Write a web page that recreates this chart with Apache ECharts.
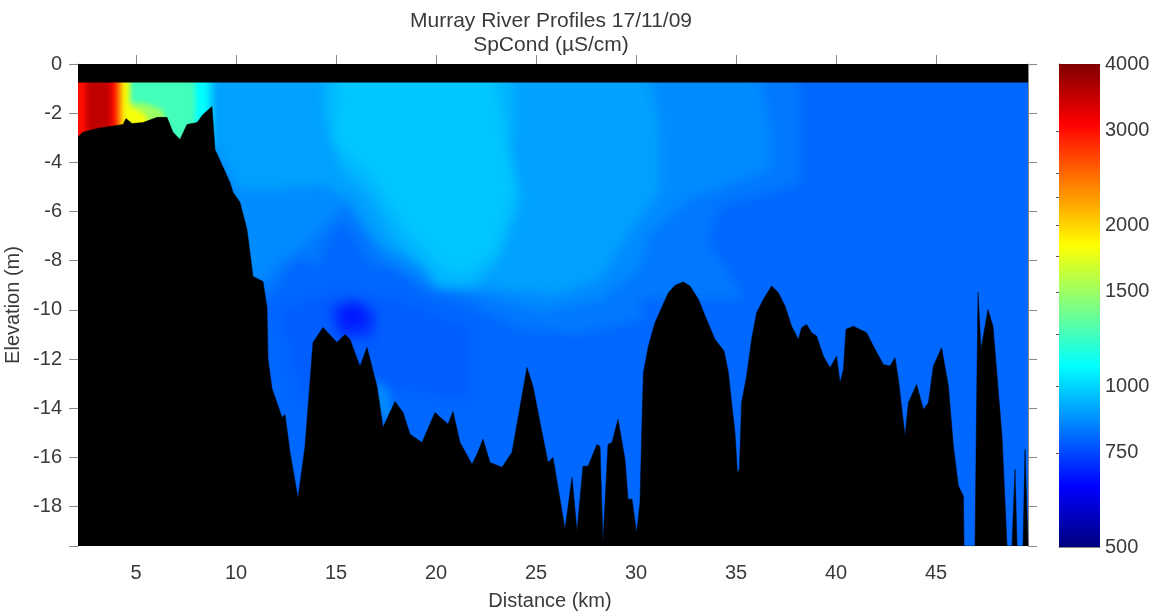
<!DOCTYPE html>
<html>
<head>
<meta charset="utf-8">
<style>html,body{margin:0;padding:0;background:#fff}#c{width:1152px;height:613px}</style>
<script src="https://cdn.jsdelivr.net/npm/echarts@6/dist/echarts.min.js"></script>
</head>
<body>
<div id="c"></div>
<script>
const titleLines = ['Murray River Profiles 17/11/09', 'SpCond (µS/cm)'];
const distanceTicks = [5, 10, 15, 20, 25, 30, 35, 40, 45];
const elevationTicks = [0, -2, -4, -6, -8, -10, -12, -14, -16, -18];
const elevationTickMarks = [0, -2, -4, -6, -8, -10, -12, -14, -16, -18, -19.6];
const colorbarLabels = [500, 750, 1000, 1500, 2000, 3000, 4000];
const colorbarMinorTicks = [750, 1000, 1250, 1500, 1750, 2000, 2250, 2500, 3000];
const distanceRange = [2.1, 49.6];
const elevationRange = [-19.6, 0];
const colorRange = [500, 4000];
const surfaceMask = [[2.1, -0.74], [49.6, -0.74]];

// Riverbed profile: [distance km, elevation m]
const riverbed = [
[2.1,-2.95],[2.35,-2.78],[3.05,-2.62],[4.35,-2.46],[4.5,-2.22],[4.8,-2.42],[5.35,-2.38],[6.05,-2.17],[6.55,-2.17],[6.85,-2.78],
[7.2,-3.07],[7.55,-2.46],[8.05,-2.38],[8.35,-2.05],[8.8,-1.73],[8.95,-3.48],[9.7,-4.82],[9.85,-5.22],[10.2,-5.63],[10.55,-6.73],
[10.85,-8.64],[11.35,-8.84],[11.55,-9.9],[11.6,-12],[11.8,-13.2],[12.3,-14.37],[12.45,-14.25],[12.7,-15.79],[13.1,-17.66],[13.45,-15.55],
[13.85,-11.32],[14.35,-10.71],[15.05,-11.32],[15.45,-11],[15.7,-11.2],[16.2,-12.3],[16.55,-11.52],[17.05,-13.11],[17.35,-14.78],[17.95,-13.72],
[18.35,-14.17],[18.7,-15.06],[19.3,-15.39],[19.95,-14.17],[20.6,-14.65],[20.85,-14.13],[21.2,-15.39],[21.8,-16.28],[22.05,-15.87],[22.35,-15.26],
[22.7,-16.2],[23.3,-16.4],[23.8,-15.79],[24.55,-12.34],[24.85,-13.11],[25.3,-14.98],[25.6,-16.2],[25.85,-16],[26.45,-18.92],[26.8,-16.8],
[27.05,-19],[27.35,-16.36],[27.6,-16.36],[28.05,-15.47],[28.2,-15.55],[28.35,-19.45],[28.6,-15.47],[28.8,-15.39],[29.1,-14.45],[29.45,-16.08],
[29.6,-17.7],[29.8,-17.7],[30.03,-19.06],[30.2,-17.84],[30.28,-15.13],[30.37,-12.55],[30.62,-11.47],[30.95,-10.52],[31.28,-9.91],[31.62,-9.3],
[31.95,-9],[32.37,-8.86],[32.7,-9.03],[33.12,-9.57],[33.53,-10.39],[33.95,-11.2],[34.4,-11.67],[34.62,-12.55],[34.78,-13.77],[34.95,-14.99],
[35.07,-16.62],[35.17,-16.48],[35.28,-13.77],[35.53,-12.69],[35.78,-11.2],[36.03,-10.12],[36.37,-9.57],[36.78,-9.03],[37.12,-9.3],[37.45,-9.84],
[37.78,-10.66],[38.12,-11.2],[38.28,-10.73],[38.53,-10.59],[38.78,-10.93],[39.03,-11.06],[39.37,-11.88],[39.7,-12.35],[40.03,-11.88],[40.2,-12.96],
[40.37,-12.42],[40.5,-10.79],[40.87,-10.66],[41.53,-10.93],[41.95,-11.6],[42.37,-12.22],[42.7,-12.28],[42.95,-11.95],[43.12,-12.83],[43.45,-15.13],
[43.62,-13.77],[44.03,-13.03],[44.37,-14.05],[44.62,-13.77],[44.87,-12.28],[45.28,-11.54],[45.62,-13.1],[45.87,-15.54],[46.12,-17.16],[46.37,-17.57],
[46.4,-19.6],[46.95,-19.6],[47.05,-12.42],[47.1,-9.29],[47.25,-11.6],[47.6,-9.98],[47.85,-10.67],[48.3,-15.14],[48.55,-19.6],[48.8,-19.6],
[48.95,-16.48],[49.05,-19.6],[49.35,-19.6],[49.45,-15.67],[49.6,-19.6]
];

// Filled-contour bands: [µS/cm level, outline in [km, m]]
const contour800 = [[-10,5],[60,5],[60,-30],[-10,-30]];
const contour785 = [[12.2,-10],[15.2,-9.2],[18.2,-9.6],[21.7,-10.8],[21.7,-13.6],[17.2,-13.2],[13.2,-13.6]];
const contour830 = [[8.45,2],[38.2,2],[38.2,-4.9],[34.2,-5.8],[33.6,-7.1],[35.45,-9.6],[30.2,-9.6],[30.45,-10.4],[27.2,-11],[24.2,-10.8],[21.7,-9.8],[19.2,-9.2],[18.2,-8.4],[16.7,-8.15],[15.95,-7.1],[15.35,-6.4],[14.7,-7.1],[14.2,-8.15],[12.95,-7.95],[11.95,-9.2],[11.3,-9.6],[8.2,-9.6]];
const contour860 = [[8.45,2],[35.7,2],[36.7,-2.65],[36.7,-4.3],[32.7,-5.5],[30.7,-6.9],[30.2,-8.35],[28.2,-9.6],[25.2,-10.05],[21.7,-9.3],[19.2,-8.75],[17.45,-7.85],[16.2,-6.5],[15.45,-5.7],[14.45,-6.5],[13.45,-7.35],[12.2,-8.05],[11.3,-8.95],[10.2,-8.75],[8.2,-5.5]];
const contour900 = [[8.95,2],[30.2,2],[31.2,-2.65],[31.2,-5.1],[29.45,-7.15],[28.2,-8.75],[26.2,-9.35],[23.2,-9.15],[20.2,-8.9],[19.2,-8.15],[17.2,-7.35],[15.7,-5.5],[14.2,-4.9],[12.2,-5.1],[10.2,-5.1],[8.2,-2.25]];
const contour940 = [[14.2,2],[23.9,2],[23.9,-2.65],[23.65,-3.5],[24.3,-5.5],[23.9,-6.5],[23.15,-7.95],[21.9,-9.05],[20.0,-9.05],[19.5,-8.25],[18,-7.25],[16.75,-5.4],[15.25,-4.3],[14.4,-2.25]];
const contour970 = [[15.1,2],[22.4,2],[23.4,-2.65],[23.9,-5.1],[22.9,-7.75],[21.3,-8.6],[20.1,-8.15],[18.5,-6.7],[16.75,-4.5],[14.95,-3.2]];
const contour720 = [[14.7,-9.9],[15.95,-9.6],[16.95,-10.1],[16.8,-11.1],[15.2,-11.1]];
const contour680 = [[15.2,-10],[16.2,-9.85],[16.55,-10.45],[15.4,-10.8]];
const contour870 = [[16.85,-12.8],[17.55,-13.2],[17.9,-14.6],[17,-14.2]];
const contour1000 = [[0,2],[8.9,2],[8.9,-3.6],[0,-3.6]];
const contour1090 = [[0,2],[8.5,2],[8.6,-3.6],[0,-3.6]];
const contour1250 = [[0,2],[7.9,2],[8.0,-3.6],[0,-3.6]];
const contour1500 = [[4.5,-1.55],[5.5,-1.6],[6.3,-1.85],[6.6,-2.6],[4.5,-2.7]];
const contour1800 = [[0,2],[4.72,2],[4.7,-1.7],[5.0,-1.85],[5.4,-2.0],[5.8,-2.6],[0,-2.7]];
const contour2300 = [[0,2],[4.3,2],[4.3,-3.2],[0,-3.2]];
const contour3000 = [[0,2],[4.05,2],[4.05,-3.2],[0,-3.2]];
const contour3500 = [[2.5,2],[3.75,2],[3.75,-3.2],[2.5,-3.2]];
const contourLevels = [800, 785, 830, 860, 870, 900, 940, 970, 720, 680, 1000, 1090, 1250, 1500, 1800, 2300, 3000, 3500];
const contourOutlines = [contour800, contour785, contour830, contour860, contour870, contour900, contour940, contour970, contour720, contour680, contour1000, contour1090, contour1250, contour1500, contour1800, contour2300, contour3000, contour3500];

function jet(t) {
  const ramp = o => Math.round(255 * Math.max(0, Math.min(1, 1.5 - Math.abs(4 * t - o))));
  return `rgb(${ramp(3)},${ramp(2)},${ramp(1)})`;
}
const levelT = v => Math.log(v / colorRange[0]) / Math.log(colorRange[1] / colorRange[0]);

const chart = echarts.init(document.getElementById('c'), null, { renderer: 'canvas' });
const textColor = '#3a3a3a';
const axisLine = { show: true, lineStyle: { color: '#8a8a8a', width: 1 } };
const font = 'Liberation Sans';
const xTick = { show: true, length: 9, customValues: distanceTicks, lineStyle: { color: '#888' } };
const yTick = { show: true, length: 9, customValues: elevationTickMarks, lineStyle: { color: '#888' } };
const cbTicks = colorbarMinorTicks.map(v => Math.log10(v));
const cbMin = Math.log10(colorRange[0]), cbMax = Math.log10(colorRange[1]);
const gradient = [];
for (let i = 0; i <= 32; i++) gradient.push({ offset: i / 32, color: jet(1 - i / 32) });
const OFFSCREEN = 3000;

chart.setOption({
  animation: false,
  backgroundColor: '#fff',
  title: {
    text: titleLines.join('\n'), left: 546, top: 4, textAlign: 'center',
    textStyle: { fontFamily: font, fontWeight: 'normal', fontSize: 21, lineHeight: 24, color: textColor }
  },
  grid: [
    { left: 78, top: 64, width: 950, height: 482, outerBoundsMode: 'none' },
    { left: 1059, top: 64, width: 41, height: 483, outerBoundsMode: 'none' }
  ],
  xAxis: [
    { type: 'value', gridIndex: 0, min: distanceRange[0], max: distanceRange[1], position: 'bottom',
      name: 'Distance (km)', nameLocation: 'middle', nameGap: 45, nameMoveOverlap: false,
      nameTextStyle: { fontFamily: font, fontSize: 20, color: textColor, padding: [0, 6, 0, 0] },
      axisLine, axisTick: xTick, splitLine: { show: false },
      axisLabel: { customValues: distanceTicks, fontFamily: font, fontSize: 20, color: textColor, margin: 17 } },
    { type: 'value', gridIndex: 0, min: distanceRange[0], max: distanceRange[1], position: 'top',
      axisLine, axisTick: xTick, splitLine: { show: false }, axisLabel: { show: false } },
    { type: 'value', gridIndex: 1, min: 0, max: 1, position: 'bottom',
      axisLine, axisTick: { show: false }, splitLine: { show: false }, axisLabel: { show: false } },
    { type: 'value', gridIndex: 1, min: 0, max: 1, position: 'top',
      axisLine, axisTick: { show: false }, splitLine: { show: false }, axisLabel: { show: false } }
  ],
  yAxis: [
    { type: 'value', gridIndex: 0, min: elevationRange[0], max: elevationRange[1], position: 'left',
      name: 'Elevation (m)', nameLocation: 'middle', nameGap: 55, nameMoveOverlap: false,
      nameTextStyle: { fontFamily: font, fontSize: 20, color: textColor },
      axisLine, axisTick: yTick, splitLine: { show: false },
      axisLabel: { customValues: elevationTicks, fontFamily: font, fontSize: 20, color: textColor, margin: 16 } },
    { type: 'value', gridIndex: 0, min: elevationRange[0], max: elevationRange[1], position: 'right',
      axisLine, axisTick: yTick, splitLine: { show: false }, axisLabel: { show: false } },
    { type: 'value', gridIndex: 1, min: cbMin, max: cbMax, position: 'right',
      axisLine, splitLine: { show: false },
      axisTick: { show: true, inside: true, length: 3, customValues: cbTicks, lineStyle: { color: '#555' } },
      axisLabel: { customValues: colorbarLabels.map(v => Math.log10(v)), inside: false, margin: 5,
        formatter: v => String(Math.round(Math.pow(10, v))), fontFamily: font, fontSize: 20, color: textColor } },
    { type: 'value', gridIndex: 1, min: cbMin, max: cbMax, position: 'left',
      axisLine, splitLine: { show: false },
      axisTick: { show: true, inside: true, length: 3, customValues: cbTicks, lineStyle: { color: '#555' } },
      axisLabel: { show: false } }
  ],
  series: [
    { type: 'custom', xAxisIndex: 0, yAxisIndex: 0, z: 1, silent: true, clip: true,
      data: contourLevels.map((lvl, i) => [i, lvl]),
      encode: { x: -1, y: -1 },
      renderItem(params, api) {
        const lvl = contourLevels[params.dataIndex];
        const fill = jet(levelT(lvl));
        // only the soft shadow of each band lands inside the plot, giving the blurred contour edge
        const pts = contourOutlines[params.dataIndex].map(p => {
          const c = api.coord(p);
          return [c[0] - OFFSCREEN, c[1]];
        });
        return { type: 'polygon', shape: { points: pts },
          style: { fill, shadowBlur: lvl >= 1000 ? 5 : 11, shadowColor: fill, shadowOffsetX: OFFSCREEN } };
      } },
    { type: 'line', xAxisIndex: 0, yAxisIndex: 0, z: 3, silent: true, showSymbol: false,
      data: riverbed, lineStyle: { color: '#000', width: 0.5 },
      areaStyle: { color: '#000', opacity: 1, origin: 'start' } },
    { type: 'line', xAxisIndex: 0, yAxisIndex: 0, z: 3, silent: true, showSymbol: false,
      data: surfaceMask, lineStyle: { color: '#000', width: 0.5 },
      areaStyle: { color: '#000', opacity: 1, origin: 'end' } },
    { type: 'custom', xAxisIndex: 2, yAxisIndex: 2, z: 1, silent: true,
      data: [[0, cbMin, 1, cbMax]], encode: { x: [0, 2], y: [1, 3] },
      renderItem(params, api) {
        const a = api.coord([api.value(0), api.value(3)]);
        const b = api.coord([api.value(2), api.value(1)]);
        return { type: 'rect', shape: { x: a[0], y: a[1], width: b[0] - a[0], height: b[1] - a[1] },
          style: { fill: new echarts.graphic.LinearGradient(0, 0, 0, 1, gradient) } };
      } }
  ]
});
</script>
</body>
</html>
